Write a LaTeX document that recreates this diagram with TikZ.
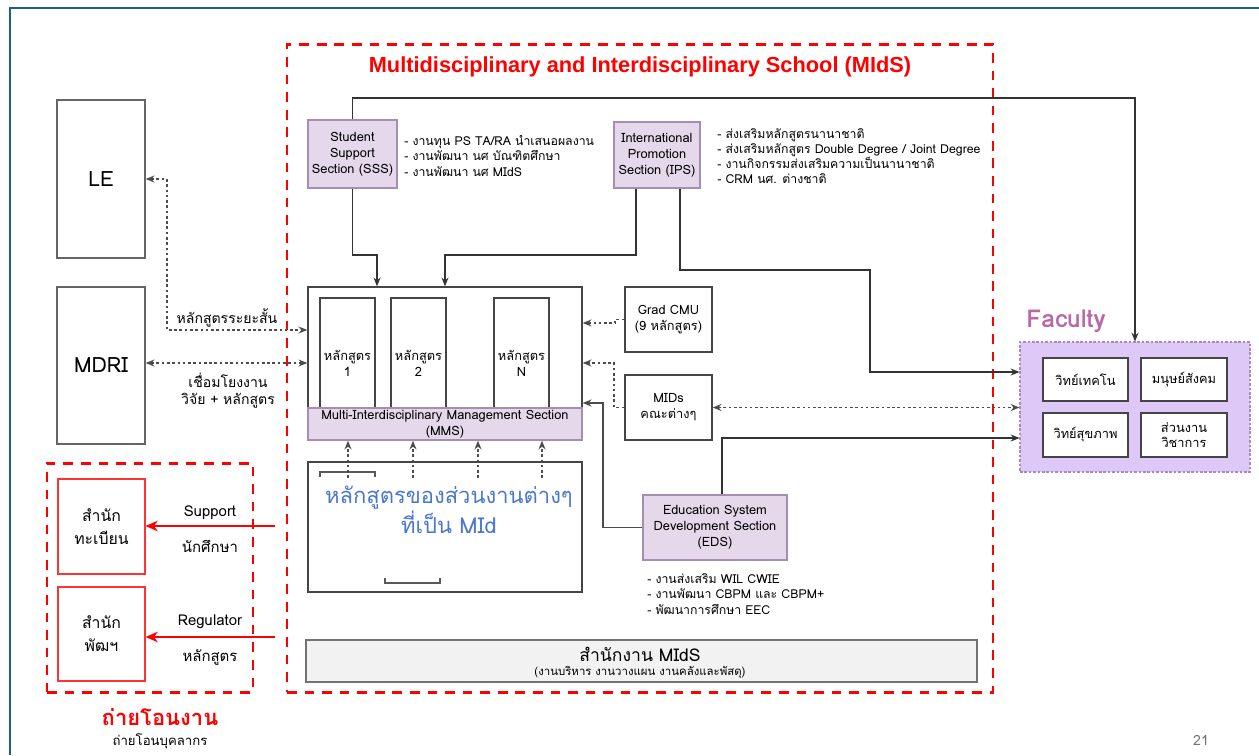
\documentclass[tikz,border=0pt]{standalone}
\usepackage{fontspec}
\setmainfont[Script=Thai]{Loma}
\newfontfamily\titlefont{Liberation Sans}
\usetikzlibrary{arrows.meta}
\definecolor{secfill}{HTML}{E5D8EB}
\definecolor{secdraw}{HTML}{A58FB0}
\definecolor{facfill}{HTML}{DEC8F7}
\definecolor{facdraw}{HTML}{A88BC0}
\definecolor{faclabel}{HTML}{B86AA8}
\definecolor{boxdraw}{HTML}{454545}
\definecolor{framecol}{HTML}{1F5F85}
\definecolor{bluetxt}{HTML}{4A78D0}
\definecolor{officefill}{HTML}{F2F2F2}
\newcommand\bx[7]{\node[#6, minimum width={(#4-#2)*0.02cm}, minimum height={(#5-#3)*0.02cm}] (#1) at ({(#2+#4)/2},{(#3+#5)/2}) {#7};}
\tikzset{
  sec/.style={draw=secdraw, fill=secfill, line width=0.8pt, align=center, inner sep=1pt, font=\fontsize{7.3}{9}\selectfont},
  plainbox/.style={draw=boxdraw, fill=white, line width=0.8pt, align=center, inner sep=1pt, font=\fontsize{7.3}{9}\selectfont},
  redbox/.style={draw=red!80!white, fill=white, line width=0.6pt, align=center, inner sep=1pt, font=\fontsize{9}{13}\selectfont},
  reddash/.style={draw=red, line width=1.7pt, dash pattern=on 5.5pt off 4.5pt},
  facbox/.style={draw=facdraw, fill=facfill, line width=0.6pt, dash pattern=on 1.5pt off 1pt},
  officebox/.style={draw=black!55, fill=officefill, line width=0.7pt},
  conn/.style={draw=black!80, line width=0.6pt},
  arr/.style={-{Stealth[length=5pt,width=4pt]}},
  darr/.style={{Stealth[length=5pt,width=4pt]}-{Stealth[length=5pt,width=4pt]}},
  dotl/.style={draw=black!70, line width=0.6pt, dash pattern=on 1.5pt off 1.5pt},
  redarr/.style={draw=red, line width=1pt, -{Stealth[length=7pt,width=6pt]}},
  note/.style={anchor=west, align=left, inner sep=0pt},
  lbl/.style={align=center, inner sep=0pt},
  bracket/.style={draw=black!65, line width=1.2pt},
}
\begin{document}
\begin{tikzpicture}[x=0.02cm, y=-0.02cm]
\useasboundingbox (0,0) rectangle (1259,755);
% frame
\draw[draw=framecol, line width=1.2pt] (10,755) -- (10,8) -- (1259,8);

% school dashed box
\bx{school}{287}{44}{993}{692}{reddash}{}
\node[text=red, font=\titlefont\bfseries\fontsize{12.4}{14}\selectfont] (title) at (640,67) {Multidisciplinary and Interdisciplinary School (MIdS)};

% sections
\bx{sss}{308}{120}{397}{188}{sec}{Student\\Support\\Section (SSS)}
\node[note, font=\fontsize{7}{9}\selectfont] (sssnote) at (404,156) {- งานทุน PS TA/RA นำเสนอผลงาน\\- งานพัฒนา นศ บัณฑิตศึกษา\\- งานพัฒนา นศ MIdS};
\bx{ips}{614}{122}{700}{188}{sec}{International\\Promotion\\Section (IPS)}
\node[note, font=\fontsize{7}{8.6}\selectfont] (ipsnote) at (717,156) {- ส่งเสริมหลักสูตรนานาชาติ\\- ส่งเสริมหลักสูตร Double Degree / Joint Degree\\- งานกิจกรรมส่งเสริมความเป็นนานาชาติ\\- CRM นศ. ต่างชาติ};

% MMS block
\bx{mmsbox}{308}{287}{582}{440}{plainbox}{}
\bx{c1}{320}{298}{375}{428}{plainbox}{หลักสูตร\\1}
\bx{c2}{391}{298}{446}{428}{plainbox}{หลักสูตร\\2}
\bx{cN}{494}{298}{549}{428}{plainbox}{หลักสูตร\\N}
\bx{mms}{308}{408}{582}{440}{sec}{Multi-Interdisciplinary Management Section\\(MMS)}

% lower block
\bx{lowbox}{308}{462}{582}{592}{plainbox}{}
\node[lbl, text=bluetxt, font=\fontsize{12.5}{15.3}\selectfont] (lowtext) at (449,510) {หลักสูตรของส่วนงานต่างๆ\\ที่เป็น MId};
\draw[bracket] (320,477) -- (320,472) -- (375,472) -- (375,477);
\draw[bracket] (385,578) -- (385,583) -- (440,583) -- (440,578);
\foreach \x in {348,413,478,542}{
  \coordinate (u\x) at (\x,478);
  \draw[dotl,arr] (u\x) -- (u\x |- mms.south);
}

% right side boxes
\bx{gradcmu}{625}{287}{712}{352}{plainbox}{Grad CMU\\(9 หลักสูตร)}
\bx{midsbox}{625}{375}{712}{440}{plainbox}{MIDs\\คณะต่างๆ}
\bx{eds}{643}{495}{787}{560}{sec}{Education System\\Development Section\\(EDS)}
\node[note, font=\fontsize{7}{9}\selectfont] (edsnote) at (647,594) {- งานส่งเสริม WIL CWIE\\- งานพัฒนา CBPM และ CBPM+\\- พัฒนาการศึกษา EEC};

% office
\bx{office}{306}{640}{977}{682}{officebox}{}
\node[lbl, font=\fontsize{10}{12}\selectfont] (officet) at (640,654) {สำนักงาน MIdS};
\node[lbl, font=\fontsize{6.5}{8}\selectfont] (offices) at (640,672) {(งานบริหาร งานวางแผน งานคลังและพัสดุ)};

% faculty
\node[text=faclabel, font=\bfseries\fontsize{14}{16}\selectfont] (faclbl) at (1066,321) {Faculty};
\bx{fac}{1020}{342}{1250}{472}{facbox}{}
\bx{f1}{1043}{358}{1128}{401}{plainbox}{วิทย์เทคโน}
\bx{f2}{1141}{358}{1227}{401}{plainbox}{มนุษย์สังคม}
\bx{f3}{1043}{413}{1128}{457}{plainbox}{วิทย์สุขภาพ}
\bx{f4}{1141}{413}{1227}{457}{plainbox}{ส่วนงาน\\วิชาการ}

% left boxes
\bx{le}{57}{100}{145}{258}{plainbox, draw=black!60, font=\fontsize{12}{14}\selectfont}{LE}
\bx{mdri}{57}{287}{145}{444}{plainbox, draw=black!60, font=\fontsize{12}{14}\selectfont}{MDRI}
\bx{transfer}{47}{463}{253}{692}{reddash}{}
\bx{reg}{58}{479}{145}{574}{redbox}{สำนัก\\ทะเบียน}
\bx{dev}{58}{587}{145}{681}{redbox}{สำนัก\\พัฒฯ}
\node[text=red, font=\bfseries\fontsize{12.5}{14}\selectfont] (trt) at (160,717) {ถ่ายโอนงาน};
\node[font=\fontsize{7.5}{9}\selectfont] (trs) at (160,741) {ถ่ายโอนบุคลากร};

% connectors: SSS
\coordinate (t2) at (1135,98);
\draw[conn,arr] (sss.north) |- (t2) -- (t2 |- fac.north);
\coordinate (k1) at (377,255);
\draw[conn,arr] (sss.south) |- (k1) -- (k1 |- mmsbox.north);
% IPS
\coordinate (ipsL) at (636,255);
\coordinate (k2) at (445,255);
\draw[conn,arr] (ipsL |- ips.south) -- (ipsL) -- (k2) -- (k2 |- mmsbox.north);
\coordinate (r1) at (680,270);
\coordinate (r3) at (870,372);
\draw[conn,arr] (r1 |- ips.south) -- (r1) -| (r3) -- (r3 -| fac.west);
% EDS
\coordinate (e1) at (603,403);
\draw[draw=black!70, line width=1pt, arr] (eds.west) -| (e1) -- (e1 -| mmsbox.east);
\coordinate (e3) at (722,438);
\draw[conn,arr] (e3 |- eds.north) -- (e3) -- (e3 -| fac.west);
% Grad CMU, MIDs
\coordinate (g1) at (615,323);
\draw[dotl,arr] (gradcmu.west) -| (g1) -- (g1 -| mmsbox.east);
\coordinate (m1) at (614,363);
\draw[dotl,arr] (midsbox.west) -| (m1) -- (m1 -| mmsbox.east);
\draw[dotl,darr] (midsbox.east) -- (midsbox.east -| fac.west);
% LE, MDRI
\coordinate (l1) at (167,330);
\draw[dotl,darr] (le.east) -| (l1) -- (l1 -| mmsbox.west);
\node[lbl, font=\fontsize{8}{10}\selectfont] (lelbl) at (227,318) {หลักสูตรระยะสั้น};
\coordinate (d1) at (200,363);
\draw[dotl,darr] (d1 -| mdri.east) -- (d1 -| mmsbox.west);
\node[lbl, font=\fontsize{8}{9.6}\selectfont] (mdrilbl) at (228,391) {เชื่อมโยงงาน\\วิจัย + หลักสูตร};
% red arrows
\coordinate (s1) at (275,526);
\draw[redarr] (s1) -- (s1 -| reg.east);
\coordinate (s2) at (275,637);
\draw[redarr] (s2) -- (s2 -| dev.east);
\node[lbl, font=\fontsize{8.5}{10}\selectfont] (sup) at (210,513) {Support};
\node[lbl, font=\fontsize{8.5}{10}\selectfont] (supb) at (210,546) {นักศึกษา};
\node[lbl, font=\fontsize{8.5}{10}\selectfont] (regl) at (210,622) {Regulator};
\node[lbl, font=\fontsize{8.5}{10}\selectfont] (reglb) at (210,657) {หลักสูตร};

\node[text=black!55, font=\fontsize{8}{9}\selectfont] (pg) at (1201,740) {21};
\end{tikzpicture}
\end{document}
